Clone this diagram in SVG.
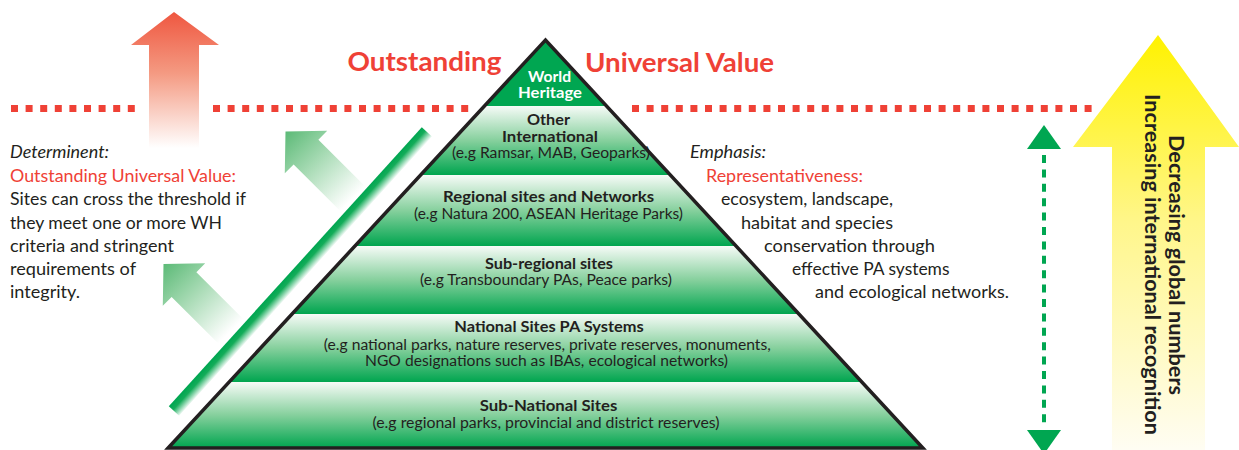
<svg xmlns="http://www.w3.org/2000/svg" width="1239" height="450" viewBox="0 0 1239 450">
<defs>
<style>
.t{font-family:"Lato","Liberation Sans",sans-serif;fill:#231f20}
.b{font-weight:bold}
.i{font-style:italic}
.red{fill:#ef4136}
.wh{fill:#ffffff;font-weight:bold}
.band{stroke:none}
.dot{stroke:#ef4136;stroke-width:7;stroke-dasharray:7 7.6;fill:none}
</style>
<linearGradient id="gBand" x1="0" y1="0" x2="0" y2="1">
<stop offset="0" stop-color="#f6fbf7"/>
<stop offset="0.5" stop-color="#86d09d"/>
<stop offset="1" stop-color="#00a54f"/>
</linearGradient>
<linearGradient id="gRed" gradientUnits="userSpaceOnUse" x1="0" y1="12" x2="0" y2="148">
<stop offset="0" stop-color="#ef5740"/>
<stop offset="0.45" stop-color="#f49a82"/>
<stop offset="1" stop-color="#ffffff"/>
</linearGradient>
<linearGradient id="gYel" gradientUnits="userSpaceOnUse" x1="0" y1="35" x2="0" y2="450">
<stop offset="0" stop-color="#fff200"/>
<stop offset="0.45" stop-color="#fff68a"/>
<stop offset="1" stop-color="#fffdf3"/>
</linearGradient>
<linearGradient id="gGa" gradientUnits="userSpaceOnUse" x1="0" y1="0" x2="0" y2="95">
<stop offset="0" stop-color="#5cba77"/>
<stop offset="0.45" stop-color="#a6dab3"/>
<stop offset="1" stop-color="#ffffff"/>
</linearGradient>
<linearGradient id="gBar" gradientUnits="userSpaceOnUse" x1="421.8" y1="127.3" x2="432.2" y2="136.7">
<stop offset="0" stop-color="#00a651"/>
<stop offset="0.35" stop-color="#14ac59"/>
<stop offset="1" stop-color="#ffffff"/>
</linearGradient>
<path id="garrow" d="M0,0 L30,29 L17.5,29 L17.5,95 L-17.5,95 L-17.5,29 L-30,29 Z"/>
</defs>

<rect width="1239" height="450" fill="#ffffff"/>

<g id="connectors">
<polygon id="red-arrow" points="174,12 219,45 199,45 199,148 149,148 149,45 131,45" fill="url(#gRed)"/>
<use href="#garrow" transform="translate(285.5,131.5) rotate(-45)" fill="url(#gGa)"/>
<use href="#garrow" transform="translate(163.5,264) rotate(-45)" fill="url(#gGa)"/>
<polygon id="diag-bar" points="421.8,127.3 432.2,136.7 179.2,415.7 168.8,406.3" fill="url(#gBar)"/>
<line class="dot" x1="11" y1="108.5" x2="135" y2="108.5"/>
<line class="dot" x1="213" y1="108.5" x2="469" y2="108.5"/>
<line class="dot" x1="632" y1="108.5" x2="1092" y2="108.5"/>
<g id="green-double-arrow" fill="#00a651">
<line x1="1044" y1="155" x2="1044" y2="424" stroke="#00a651" stroke-width="4" stroke-dasharray="8 6.4"/>
<polygon points="1044,125 1061,149 1027,149"/>
<polygon points="1027,430 1061,430 1044,454"/>
</g>
<polygon id="yellow-arrow" points="1158,35 1239,147 1205,147 1205,450 1112,450 1112,147 1073,147" fill="url(#gYel)"/>
</g>

<g id="title">
<text class="t b red" x="347.5" y="71" font-size="27" textLength="154" lengthAdjust="spacingAndGlyphs">Outstanding</text>
<text class="t b red" x="585" y="71.5" font-size="27" textLength="189" lengthAdjust="spacingAndGlyphs">Universal Value</text>
</g>

<g id="pyramid">
<g id="band-sub-national">
<polygon class="band" points="229.1,382 861.9,382 922.9,448 168.1,448" fill="url(#gBand)"/>
<text class="t b" x="548.5" y="411" font-size="14.5" text-anchor="middle" textLength="137.5" lengthAdjust="spacingAndGlyphs">Sub-National Sites</text>
<text class="t" x="546" y="427.5" font-size="14.5" text-anchor="middle" textLength="347" lengthAdjust="spacingAndGlyphs">(e.g regional parks, provincial and district reserves)</text>
</g>
<g id="band-national">
<polygon class="band" points="292,314 799,314 861.9,382 229.1,382" fill="url(#gBand)"/>
<text class="t b" x="549" y="331.5" font-size="14.5" text-anchor="middle" textLength="189.5" lengthAdjust="spacingAndGlyphs">National Sites PA Systems</text>
<text class="t" x="547.3" y="349.5" font-size="14.5" text-anchor="middle" textLength="447" lengthAdjust="spacingAndGlyphs">(e.g national parks, nature reserves, private reserves, monuments,</text>
<text class="t" x="546.5" y="365.5" font-size="14.5" text-anchor="middle" textLength="363" lengthAdjust="spacingAndGlyphs">NGO designations such as IBAs, ecological networks)</text>
</g>
<g id="band-sub-regional">
<polygon class="band" points="354.9,246 736.1,246 799,314 292,314" fill="url(#gBand)"/>
<text class="t b" x="549" y="268.5" font-size="14.5" text-anchor="middle" textLength="128" lengthAdjust="spacingAndGlyphs">Sub-regional sites</text>
<text class="t" x="546" y="285" font-size="14.5" text-anchor="middle" textLength="252" lengthAdjust="spacingAndGlyphs">(e.g Transboundary PAs, Peace parks)</text>
</g>
<g id="band-regional">
<polygon class="band" points="420.6,175 670.4,175 736.1,246 354.9,246" fill="url(#gBand)"/>
<text class="t b" x="548.5" y="202" font-size="14.5" text-anchor="middle" textLength="211" lengthAdjust="spacingAndGlyphs">Regional sites and Networks</text>
<text class="t" x="548.5" y="219" font-size="14.5" text-anchor="middle" textLength="269" lengthAdjust="spacingAndGlyphs">(e.g Natura 200, ASEAN Heritage Parks)</text>
</g>
<g id="band-other-international">
<polygon class="band" points="484.4,106 606.6,106 670.4,175 420.6,175" fill="url(#gBand)"/>
<text class="t b" x="548.5" y="125" font-size="14.5" text-anchor="middle" textLength="43" lengthAdjust="spacingAndGlyphs">Other</text>
<text class="t b" x="550" y="142" font-size="14.5" text-anchor="middle" textLength="96" lengthAdjust="spacingAndGlyphs">International</text>
<text class="t" x="551" y="157.5" font-size="14.5" text-anchor="middle" textLength="198" lengthAdjust="spacingAndGlyphs">(e.g Ramsar, MAB, Geoparks)</text>
</g>
<g id="band-world-heritage">
<polygon points="545.5,40 606.6,106 484.4,106" fill="#00a651"/>
<text class="t wh" x="549.5" y="82" font-size="15" text-anchor="middle" textLength="43" lengthAdjust="spacingAndGlyphs">World</text>
<text class="t wh" x="550" y="98" font-size="15" text-anchor="middle" textLength="64" lengthAdjust="spacingAndGlyphs">Heritage</text>
</g>
<polygon id="pyramid-outline" points="168.1,448 545.5,40 922.9,448" fill="none" stroke="#231f20" stroke-width="3.5" stroke-linejoin="miter"/>
</g>

<g id="left-text" font-size="17">
<text class="t i" x="10" y="158" textLength="99" lengthAdjust="spacingAndGlyphs">Determinent:</text>
<text class="t red" x="10" y="181.5" textLength="226" lengthAdjust="spacingAndGlyphs">Outstanding Universal Value:</text>
<text class="t" x="10" y="205" textLength="236" lengthAdjust="spacingAndGlyphs">Sites can cross the threshold if</text>
<text class="t" x="10" y="228.5" textLength="212" lengthAdjust="spacingAndGlyphs">they meet one or more WH</text>
<text class="t" x="10" y="251.5" textLength="164" lengthAdjust="spacingAndGlyphs">criteria and stringent</text>
<text class="t" x="10" y="274.5" textLength="126" lengthAdjust="spacingAndGlyphs">requirements of</text>
<text class="t" x="10" y="297.5" textLength="70" lengthAdjust="spacingAndGlyphs">integrity.</text>
</g>

<g id="right-text" font-size="17">
<text class="t i" x="690" y="158" textLength="76" lengthAdjust="spacingAndGlyphs">Emphasis:</text>
<text class="t red" x="706" y="181.5" textLength="157" lengthAdjust="spacingAndGlyphs">Representativeness:</text>
<text class="t" x="721" y="205" textLength="172" lengthAdjust="spacingAndGlyphs">ecosystem, landscape,</text>
<text class="t" x="741" y="228.5" textLength="152" lengthAdjust="spacingAndGlyphs">habitat and species</text>
<text class="t" x="764" y="251.5" textLength="171" lengthAdjust="spacingAndGlyphs">conservation through</text>
<text class="t" x="792" y="274.5" textLength="157.5" lengthAdjust="spacingAndGlyphs">effective PA systems</text>
<text class="t" x="815" y="297.5" textLength="194" lengthAdjust="spacingAndGlyphs">and ecological networks.</text>
</g>

<g id="yellow-arrow-labels">
<text class="t b" transform="translate(1168.5,135) rotate(90)" x="0" y="0" font-size="21" textLength="260" lengthAdjust="spacingAndGlyphs">Decreasing global numbers</text>
<text class="t b" transform="translate(1145,94) rotate(90)" x="0" y="0" font-size="21" textLength="341" lengthAdjust="spacingAndGlyphs">Increasing international recognition</text>
</g>
</svg>
